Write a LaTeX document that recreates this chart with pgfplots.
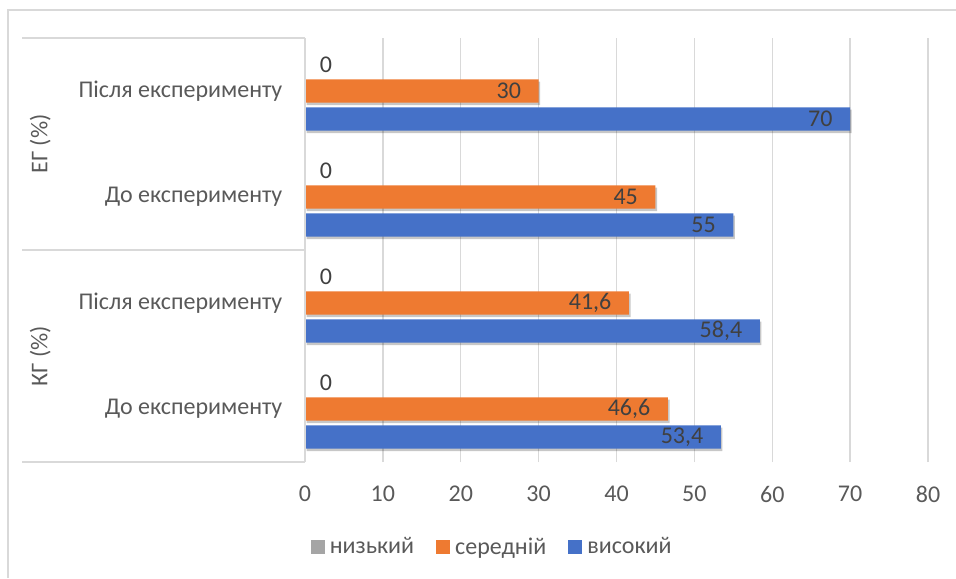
\documentclass[border=0pt]{standalone}
\usepackage{fontspec}
\setmainfont{Carlito}
\usepackage{pgfplots}
\pgfplotsset{compat=1.18}
\usetikzlibrary{shadows}
\definecolor{gridc}{HTML}{D9D9D9}
\definecolor{txt}{HTML}{595959}
\definecolor{lbl}{HTML}{404040}
\definecolor{cgrey}{HTML}{A5A5A5}
\definecolor{corange}{HTML}{EE7A31}
\definecolor{cblue}{HTML}{4571C8}
\newcommand{\cf}{\fontsize{18}{21}\selectfont}
\begin{document}
\begin{tikzpicture}
\path[use as bounding box] (0pt,0pt) rectangle (717pt,433.5pt);
\draw[gridc, line width=1.5pt] (6pt,0pt) -- (6pt,426pt) -- (717pt,426pt);
\begin{axis}[
  at={(228.75pt,87pt)}, anchor=south west,
  scale only axis, width=467.25pt, height=318pt,
  xbar, bar width=17.5pt,
  xmin=0, xmax=80, ymin=-0.5, ymax=3.5,
  xtick={0,10,...,80},
  ytick={0,1,2,3},
  yticklabels={До експерименту, Після експерименту, До експерименту, Після експерименту},
  major tick length=0pt,
  xmajorgrids, grid style={gridc, line width=1pt},
  axis line style={draw=none},
  /pgf/number format/assume math mode=true,
  tick label style={font=\cf, text=txt},
  xticklabel style={yshift=-14.5pt},
  yticklabel style={xshift=-13.5pt},
  clip=false,
  legend style={at={(0.301,-0.2)}, anchor=center, draw=none, fill=none,
    legend columns=-1, font=\cf, text=txt,
    /tikz/every even column/.append style={column sep=14.5pt}},
  legend image code/.code={\fill[#1] (0pt,-5.25pt) rectangle (10.5pt,5.25pt);},
  nodes near coords={\pgfmathprintnumber[use comma, fixed, precision=1]{\pgfplotspointmeta}},
  nodes near coords style={font=\cf, text=lbl, inner sep=0pt, anchor=east, xshift=-13pt},
]
\addlegendimage{draw=none, fill=cgrey}
\addlegendimage{draw=none, fill=corange}
\addlegendimage{draw=none, fill=cblue}
\addplot[forget plot, draw=none, fill=cgrey, bar shift=21pt,
  nodes near coords style={anchor=west, xshift=24pt, yshift=-1.5pt}]
  coordinates {(0,0) (0,1) (0,2) (0,3)};
\addplot[forget plot, draw=none, fill=corange, bar shift=0pt,
  drop shadow={shadow xshift=1.2pt, shadow yshift=-1.8pt, opacity=0.22, fill=black}]
  coordinates {(46.6,0) (41.6,1) (45,2) (30,3)};
\addplot[forget plot, draw=none, fill=cblue, bar shift=-21pt,
  drop shadow={shadow xshift=1.2pt, shadow yshift=-1.8pt, opacity=0.22, fill=black}]
  coordinates {(53.4,0) (58.4,1) (55,2) (70,3)};
\legend{\hspace{1.8pt}низький, \hspace{1.8pt}середній, \hspace{1.8pt}високий}
\draw[gridc, line width=1.5pt] (axis cs:0,-0.5) -- (axis cs:0,3.5);
\draw[gridc, line width=1.5pt] (axis cs:-36.3,3.5) -- (axis cs:0,3.5);
\draw[gridc, line width=1.5pt] (axis cs:-36.3,1.5) -- (axis cs:0,1.5);
\draw[gridc, line width=1.5pt] (axis cs:-36.3,-0.5) -- (axis cs:0,-0.5);
\node[rotate=90, font=\cf, text=txt] at (axis cs:-34,2.5) {ЕГ (\%)};
\node[rotate=90, font=\cf, text=txt] at (axis cs:-34,0.5) {КГ (\%)};
\end{axis}
\end{tikzpicture}
\end{document}
